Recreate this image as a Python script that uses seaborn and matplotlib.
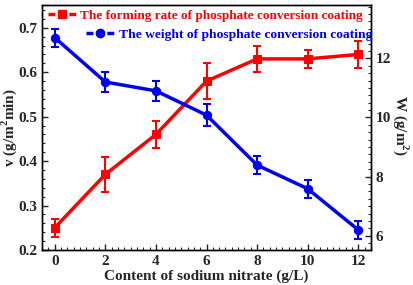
import numpy as np
import pandas as pd
import seaborn as sns
import matplotlib
matplotlib.use('Agg')
import matplotlib.pyplot as plt
from matplotlib.ticker import MultipleLocator
from matplotlib.lines import Line2D

sns.set_style('ticks')
plt.rcParams['font.family'] = ['Liberation Serif', 'DejaVu Serif']
plt.rcParams['font.weight'] = 'bold'
plt.rcParams['mathtext.fontset'] = 'custom'
plt.rcParams['mathtext.rm'] = 'Liberation Serif:bold'
plt.rcParams['mathtext.bf'] = 'Liberation Serif:bold'

# data
nitrate = [0, 2, 4, 6, 8, 10, 12]
rate = [0.25, 0.37, 0.46, 0.58, 0.63, 0.63, 0.64]
rate_err = [0.02, 0.04, 0.03, 0.04, 0.03, 0.02, 0.03]
weight = [12.70, 11.20, 10.90, 10.08, 8.39, 7.59, 6.20]
weight_err = [0.30, 0.35, 0.35, 0.38, 0.30, 0.30, 0.30]
lab_rate = 'The forming rate of phosphate conversion coating'
lab_weight = 'The weight of phosphate conversion coating'

df = pd.DataFrame({'x': nitrate, 'v': rate, 'v_err': rate_err,
                   'w': weight, 'w_err': weight_err})

red = '#ff0000'
blue = '#0000ee'

fig = plt.figure(figsize=(4.13, 2.85), dpi=100)
ax = fig.add_axes([0.102, 0.123, 0.796, 0.859])
ax2 = ax.twinx()

sns.lineplot(data=df, x='x', y='v', ax=ax, color=red, marker='s', markersize=6,
             markeredgecolor=red, linewidth=2.5, legend=False)
ax.errorbar(df['x'], df['v'], yerr=df['v_err'], fmt='none', ecolor=red,
            elinewidth=1.5, capsize=3, capthick=1.5)

sns.lineplot(data=df, x='x', y='w', ax=ax2, color=blue, marker='o', markersize=6,
             markeredgecolor=blue, linewidth=2.5, legend=False)
ax2.errorbar(df['x'], df['w'], yerr=df['w_err'], fmt='none', ecolor=blue,
             elinewidth=1.5, capsize=3, capthick=1.5)

ax.set_xlim(-0.5, 12.5)
ax.set_ylim(0.2, 0.751)
ax2.set_ylim(5.52, 13.8)

ax.set_xticks(nitrate)
ax.xaxis.set_minor_locator(MultipleLocator(0.25))
ax.yaxis.set_major_locator(MultipleLocator(0.1))
ax.yaxis.set_minor_locator(MultipleLocator(0.02))
ax2.yaxis.set_major_locator(MultipleLocator(2))
ax2.yaxis.set_minor_locator(MultipleLocator(0.25))

ax.tick_params(axis='both', which='major', direction='in', length=4, width=1,
               labelsize=11, top=False, right=False)
ax.tick_params(axis='both', which='minor', direction='in', length=2, width=0.8,
               top=False, right=False)
ax2.tick_params(axis='y', which='major', direction='in', length=4, width=1, labelsize=11)
ax2.tick_params(axis='y', which='minor', direction='in', length=2, width=0.8)

for a in (ax, ax2):
    for s in a.spines.values():
        s.set_visible(True)
        s.set_linewidth(1)
        s.set_color('black')

ax.set_xlabel('Content of sodium nitrate (g/L)', fontsize=11, fontweight='bold', labelpad=1)
ax.set_ylabel('v (g/m$^2$min)', fontsize=11, fontweight='bold')
ax2.set_ylabel('W (g/m$^2$)', fontsize=11, fontweight='bold', rotation=270)
# centre the axis labels on explicit positions
ax.yaxis.label.set(ha='center', va='center', rotation_mode='default')
ax2.yaxis.label.set(ha='center', va='center', rotation_mode='default')
ax.yaxis.set_label_coords(-0.100, 0.5)
ax2.yaxis.set_label_coords(1.092, 0.51)

h1 = Line2D([], [], color=red, linewidth=2.5, dashes=(2.0, 1.0), marker='s',
            markersize=6)
h2 = Line2D([], [], color=blue, linewidth=2.5, dashes=(2.0, 1.0), marker='o',
            markersize=6)
leg1 = ax2.legend([h1], [lab_rate], loc='upper right', bbox_to_anchor=(0.99, 1.003),
                  frameon=False, fontsize=9.5, handlelength=2.1, handletextpad=0.3,
                  borderaxespad=0, labelcolor=red)
ax2.add_artist(leg1)
ax2.legend([h2], [lab_weight], loc='upper right', bbox_to_anchor=(1.02, 0.928),
           frameon=False, fontsize=9.7, handlelength=2.1, handletextpad=0.3,
           borderaxespad=0, labelcolor=blue)

fig.savefig('out.png', dpi=100)
